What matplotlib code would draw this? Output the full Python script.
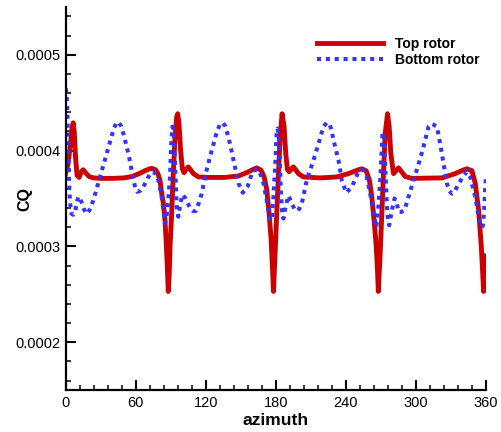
import numpy as np
import matplotlib
matplotlib.use('Agg')
import matplotlib.pyplot as plt
from matplotlib.ticker import MultipleLocator, FormatStrFormatter

plt.rcParams['font.family'] = ['Liberation Sans', 'DejaVu Sans']

# torque coefficient (x1e-4) against azimuth, top rotor
top_azimuth = [
    0, 2, 4, 5.5, 6.5, 7.5, 8.5, 9.8, 11.5, 13.5, 15, 17, 20, 24, 30, 40, 50, 57,
    63, 68, 72, 74, 77, 79, 80.8, 82.3, 83.7, 85.1, 86, 87.1, 87.9,
    88.7, 89.4, 90.8, 92.2, 93.7, 95.1, 96, 97.1, 98.5, 100, 101.4, 103, 105.1,
    107, 109.4, 113.7, 122, 136, 148, 155, 160, 163.7, 167.4, 170, 172.3, 174.3,
    176, 177.1, 178,
    179.4, 180.8, 182.3, 183.7, 185.4, 187.1, 188.5, 190, 191.4, 195.1, 199.4,
    203.7, 218, 232.2, 242.3, 250.8, 253.7, 257.4, 260.2, 262.2, 264.2, 266,
    267.1, 267.8,
    269.4, 270.8, 272.3, 273.7, 275.7, 277.1, 278.5, 280.8, 285.1, 290.8, 296.5,
    322.3, 333.7, 340, 343.7, 348, 350.8, 353.7, 356, 358, 358.8, 360,
]
top_cq = [
    3.76, 3.86, 4.05, 4.24, 4.29, 4.18, 3.93, 3.74, 3.72, 3.78, 3.80, 3.77, 3.73,
    3.715, 3.71, 3.71, 3.715, 3.73, 3.76, 3.79, 3.81, 3.815, 3.80, 3.76, 3.69,
    3.55, 3.45, 3.27, 3.07, 2.79, 2.53,
    2.70, 3.00, 3.34, 3.76, 4.14, 4.35, 4.385, 4.28, 4.00, 3.81, 3.77, 3.80,
    3.83, 3.80, 3.76, 3.725, 3.72, 3.72, 3.735, 3.77, 3.80, 3.82, 3.795, 3.725,
    3.59, 3.34, 3.07, 2.79, 2.53,
    2.93, 3.34, 3.76, 4.14, 4.385, 4.25, 3.97, 3.80, 3.78, 3.83, 3.76, 3.725,
    3.715, 3.725, 3.76, 3.80, 3.81, 3.79, 3.69, 3.52, 3.27, 3.00, 2.75, 2.53,
    2.93, 3.34, 3.79, 4.18, 4.385, 4.25, 3.97, 3.76, 3.82, 3.73, 3.71, 3.715,
    3.76, 3.795, 3.81, 3.79, 3.66, 3.38, 3.00, 2.53, 2.79, 2.90,
]

# bottom rotor
bottom_azimuth = [
    0, 0.8, 1.6, 2.3, 3, 3.8, 5.1, 6.5, 8, 9.5, 10.8, 12.2, 13.7, 16, 18, 20.5,
    23.7, 26.5, 29.4, 32.3, 35.1, 38, 40.8, 43, 45.1, 47.3, 49.4, 51.5, 53.7, 56,
    58, 59.8, 61.4, 63.8, 66.5, 70.8, 73, 75.1, 77.5, 79.4, 82.2, 83.8, 85.1,
    86.3, 87.4, 89.4, 90.3, 91.4, 92.6, 93.4, 94.3, 95.1, 96.5, 98.3, 100, 102.8,
    106.5, 109, 111.4, 114, 116.5, 120.8, 125.1, 129.4, 132.3, 134.5, 136.5,
    138.5, 140.8, 144.5, 148, 151.7, 156, 160, 162.5, 165.1, 167.3, 169.4, 172.3,
    175.1,
    176.5, 178, 179.4, 180.8, 181.5, 182.5, 183.4, 184.3, 185.2, 186.5, 188.5,
    190.8, 193.7, 196, 198, 200, 202.3, 206.5, 212.3, 216.5, 220.8, 223.5, 226,
    228, 229.4, 233.7, 236.5, 240.3, 245.1, 250.8, 253.5, 255.7, 258, 260.2,
    263.7, 266,
    267.5, 269.4, 270.5, 271.4, 272.3, 273.2, 274, 275, 276, 277.1, 279.5, 281.7,
    283.7, 285.1, 287.5, 290.3, 293.7, 298, 302.3, 306.5, 310.8, 313, 315.1, 318,
    320.8, 323.7, 326.5, 328.5, 330.8, 333, 335.1, 340, 343.7, 346.5, 348.5,
    350.8, 352.5, 354.3, 356, 357.5, 358.5, 359.3, 360,
]
bottom_cq = [
    4.65, 4.60, 4.35, 4.00, 3.65, 3.45, 3.34, 3.33, 3.36, 3.45, 3.52, 3.50, 3.46,
    3.38, 3.34, 3.38, 3.48, 3.60, 3.725, 3.85, 3.97, 4.09, 4.21, 4.28, 4.30, 4.26,
    4.18, 4.08, 3.97, 3.83, 3.69, 3.61, 3.57, 3.58, 3.62, 3.725, 3.77, 3.78,
    3.75, 3.69, 3.52, 3.38, 3.24,
    3.30, 3.41, 3.725, 4.04, 4.25, 4.22, 3.95, 3.69, 3.41, 3.31, 3.45, 3.54,
    3.50, 3.40, 3.37, 3.37, 3.45, 3.55, 3.80, 4.00, 4.19, 4.28, 4.29, 4.26,
    4.18, 4.07, 3.86, 3.66, 3.56, 3.63, 3.78, 3.80, 3.80, 3.74, 3.66, 3.48,
    3.27,
    3.28, 3.52, 3.83, 4.21, 4.23, 4.15, 3.90, 3.60, 3.38, 3.29, 3.42, 3.53,
    3.45, 3.39, 3.37, 3.39, 3.45, 3.69, 3.90, 4.07, 4.25, 4.29, 4.28, 4.20,
    4.11, 3.90, 3.69, 3.56, 3.62, 3.78, 3.80, 3.79, 3.72, 3.59, 3.36, 3.20,
    3.35, 3.69, 3.95, 4.18, 4.19, 4.00, 3.75, 3.45, 3.28, 3.22, 3.38, 3.50,
    3.45, 3.36, 3.36, 3.38, 3.52, 3.69, 3.86, 4.04, 4.25, 4.28, 4.27, 4.25,
    4.07, 3.86, 3.66, 3.58, 3.55, 3.57, 3.62, 3.725, 3.78, 3.725, 3.63, 3.52,
    3.40, 3.27, 3.20, 3.22, 3.40, 3.60, 3.73,
]

top_cq = np.array(top_cq) * 1e-4
bottom_cq = np.array(bottom_cq) * 1e-4

fig = plt.figure(figsize=(5.01, 4.32), dpi=100)
ax = fig.add_axes([0.131, 0.097, 0.839, 0.887])

ax.plot(top_azimuth, top_cq, color='#cc0000', lw=3.5, label='Top rotor',
        solid_joinstyle='round')
ax.plot(bottom_azimuth, bottom_cq, color='#3333ff', lw=2.9,
        linestyle=(0, (1, 1.2)), label='Bottom rotor')

ax.set_xlim(0, 360)
ax.set_ylim(0.00015, 0.00055)
ax.xaxis.set_major_locator(MultipleLocator(60))
ax.xaxis.set_minor_locator(MultipleLocator(12))
ax.yaxis.set_major_locator(MultipleLocator(0.0001))
ax.yaxis.set_minor_locator(MultipleLocator(0.00002))
ax.yaxis.set_major_formatter(FormatStrFormatter('%.4f'))

for side in ['top', 'right']:
    ax.spines[side].set_visible(False)
for side in ['left', 'bottom']:
    ax.spines[side].set_linewidth(1.6)

ax.tick_params(which='major', direction='in', length=7, width=1.5,
               labelsize=10.5, pad=4)
ax.tick_params(which='minor', direction='in', length=3.6, width=1.1)

ax.set_xlabel('azimuth', fontsize=12.5, fontweight='bold')
ax.xaxis.set_label_coords(0.499, -0.059)
ax.set_ylabel('CQ', fontsize=11.5, fontweight='bold', va='center')
ax.yaxis.set_label_coords(-0.098, 0.499)

leg = ax.legend(loc='upper left', bbox_to_anchor=(0.632, 0.914),
                bbox_transform=fig.transFigure, frameon=False, borderpad=0,
                borderaxespad=0, handlelength=4.8, handletextpad=0.86,
                labelspacing=0.1, prop={'weight': 'bold', 'size': 10})

fig.savefig('out.png', dpi=100)
